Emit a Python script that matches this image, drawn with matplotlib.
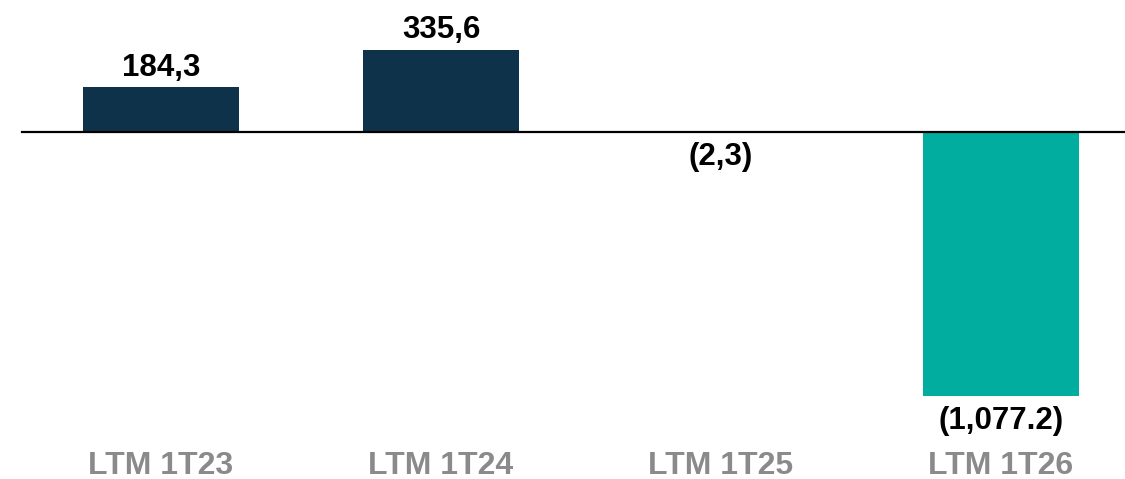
import matplotlib
matplotlib.use("Agg")
import matplotlib.pyplot as plt

categories = ["LTM 1T23", "LTM 1T24", "LTM 1T25", "LTM 1T26"]
values = [184.3, 335.6, -2.3, -1077.2]
value_labels = ["184,3", "335,6", "(2,3)", "(1,077.2)"]
colors = ["#0e3249", "#0e3249", "#00ad9f", "#00ad9f"]

plt.rcParams['font.family'] = ['Liberation Sans', 'DejaVu Sans']

fig = plt.figure(figsize=(11.25, 4.79), dpi=100)
ax = fig.add_axes([0, 0, 1, 1])

x = range(len(categories))
ax.bar(x, values, width=0.554, color=colors)

# baseline
ax.axhline(0, xmin=22 / 1125, xmax=1, color="black", linewidth=1.6)

for i, (v, lab) in enumerate(zip(values, value_labels)):
    if v >= 0:
        ax.annotate(lab, (i, v), xytext=(0, 3), textcoords="offset points",
                    ha="center", va="bottom", fontsize=22.5, fontweight="bold")
    else:
        ax.annotate(lab, (i, v), xytext=(0, -7), textcoords="offset points",
                    ha="center", va="top", fontsize=22.5, fontweight="bold")

for i, c in enumerate(categories):
    ax.text(i, 0.027, c, transform=ax.get_xaxis_transform(), ha="center",
            va="center", fontsize=23, fontweight="bold", color="#8a8a8a")

ax.set_xlim(-161 / 280, (1125 - 161) / 280)
ax.set_ylim(-(479 - 132) / 0.2455, 132 / 0.2455)
ax.axis("off")

fig.savefig("out.png", dpi=100)
